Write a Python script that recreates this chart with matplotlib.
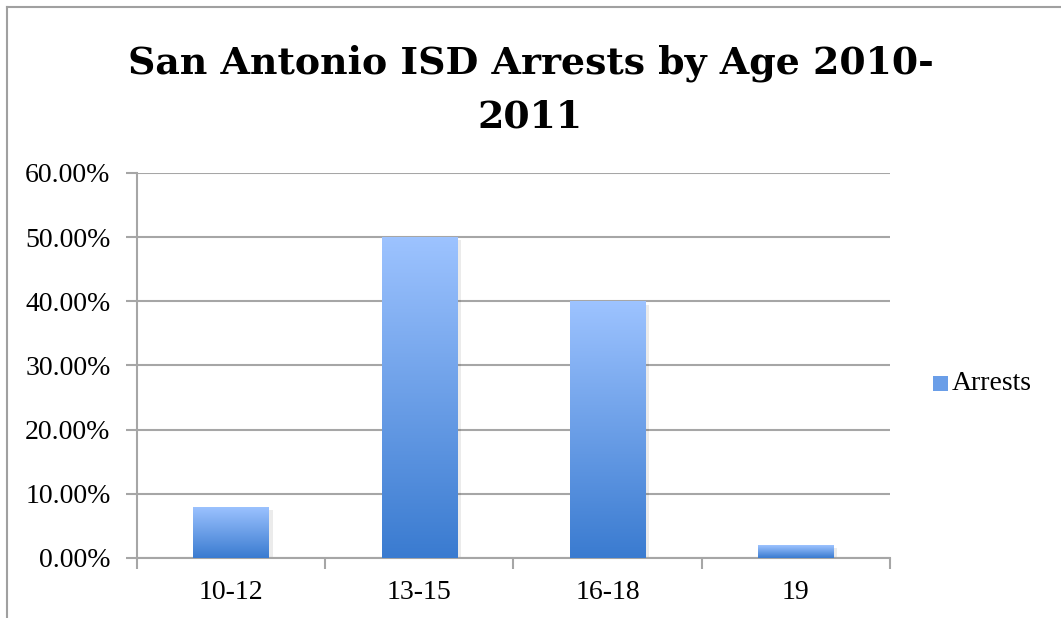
import numpy as np
import matplotlib
matplotlib.use("Agg")
import matplotlib.pyplot as plt
from matplotlib.colors import LinearSegmentedColormap
from matplotlib.patches import Rectangle
from matplotlib.lines import Line2D
from matplotlib.ticker import FuncFormatter

# data
age_groups = ["10-12", "13-15", "16-18", "19"]
arrest_share = [8.0, 50.0, 40.0, 2.0]
series_name = "Arrests"
title_lines = ["San Antonio ISD Arrests by Age 2010-", "2011"]

grid_color = "#a6a6a6"
top_color = "#9dc3ff"
bottom_color = "#3a7bd0"
grad = LinearSegmentedColormap.from_list("bar_grad", [bottom_color, top_color])

plt.rcParams["font.family"] = ["Liberation Serif", "DejaVu Serif"]

fig = plt.figure(figsize=(10.61, 6.18), dpi=100)
ax = fig.add_axes([0.1291, 0.0971, 0.7097, 0.6230])

x = np.arange(len(age_groups))
bar_w = 0.4

gradient = np.linspace(0, 1, 256).reshape(-1, 1)
for xi, val in zip(x, arrest_share):
    # soft shadow
    sh = Rectangle((xi - bar_w / 2 + 0.02, -0.5), bar_w, val, facecolor="#000000",
                   alpha=0.08, edgecolor="none", zorder=2)
    ax.add_patch(sh)
    bar = Rectangle((xi - bar_w / 2, 0), bar_w, val, facecolor="none",
                    edgecolor="none", zorder=3)
    ax.add_patch(bar)
    im = ax.imshow(gradient, cmap=grad, origin="lower", aspect="auto",
                   extent=(xi - bar_w / 2, xi + bar_w / 2, 0, val), zorder=3)
    im.set_clip_path(bar)

ax.set_xlim(-0.5, len(age_groups) - 0.5)
ax.set_ylim(0, 60)

ax.set_yticks(np.arange(0, 61, 10))
ax.yaxis.set_major_formatter(FuncFormatter(lambda v, p: f"{v:.2f}%"))
ax.yaxis.grid(True, color=grid_color, linewidth=1.5, zorder=0)
ax.set_axisbelow(True)

ax.set_xticks(x)
ax.set_xticklabels(age_groups)
ax.set_xticks(np.arange(-0.5, len(age_groups)), minor=True)
ax.tick_params(axis="x", which="major", length=0, pad=16, labelsize=20)
ax.tick_params(axis="x", which="minor", length=8, width=1.5, color=grid_color)
ax.tick_params(axis="y", length=8, width=1.5, color=grid_color, labelsize=20, pad=11)

for s in ["top", "right"]:
    ax.spines[s].set_visible(False)
for s in ["left", "bottom"]:
    ax.spines[s].set_color(grid_color)
    ax.spines[s].set_linewidth(1.5)

# two-line title, baselines placed separately
for line, base_px in zip(title_lines, [73, 128]):
    fig.text(0.5, 1 - base_px / 618, line, ha="center", va="baseline", fontsize=27.3,
             fontweight="bold", family=["DejaVu Serif"])

# legend
fig.patches.append(Rectangle((933 / 1061, 1 - 391 / 618), 15 / 1061, 15 / 618,
                             transform=fig.transFigure, facecolor="#6a9ee8",
                             edgecolor="none"))
fig.text(952 / 1061, 1 - 384 / 618, series_name, ha="left", va="center", fontsize=20)

# chart frame
fig.add_artist(Line2D([7 / 1061, 7 / 1061], [0, 1 - 7 / 618], color="#a0a0a0", lw=1.5))
fig.add_artist(Line2D([7 / 1061, 1], [1 - 7 / 618, 1 - 7 / 618], color="#a0a0a0", lw=1.5))

fig.savefig("out.png", dpi=100)
